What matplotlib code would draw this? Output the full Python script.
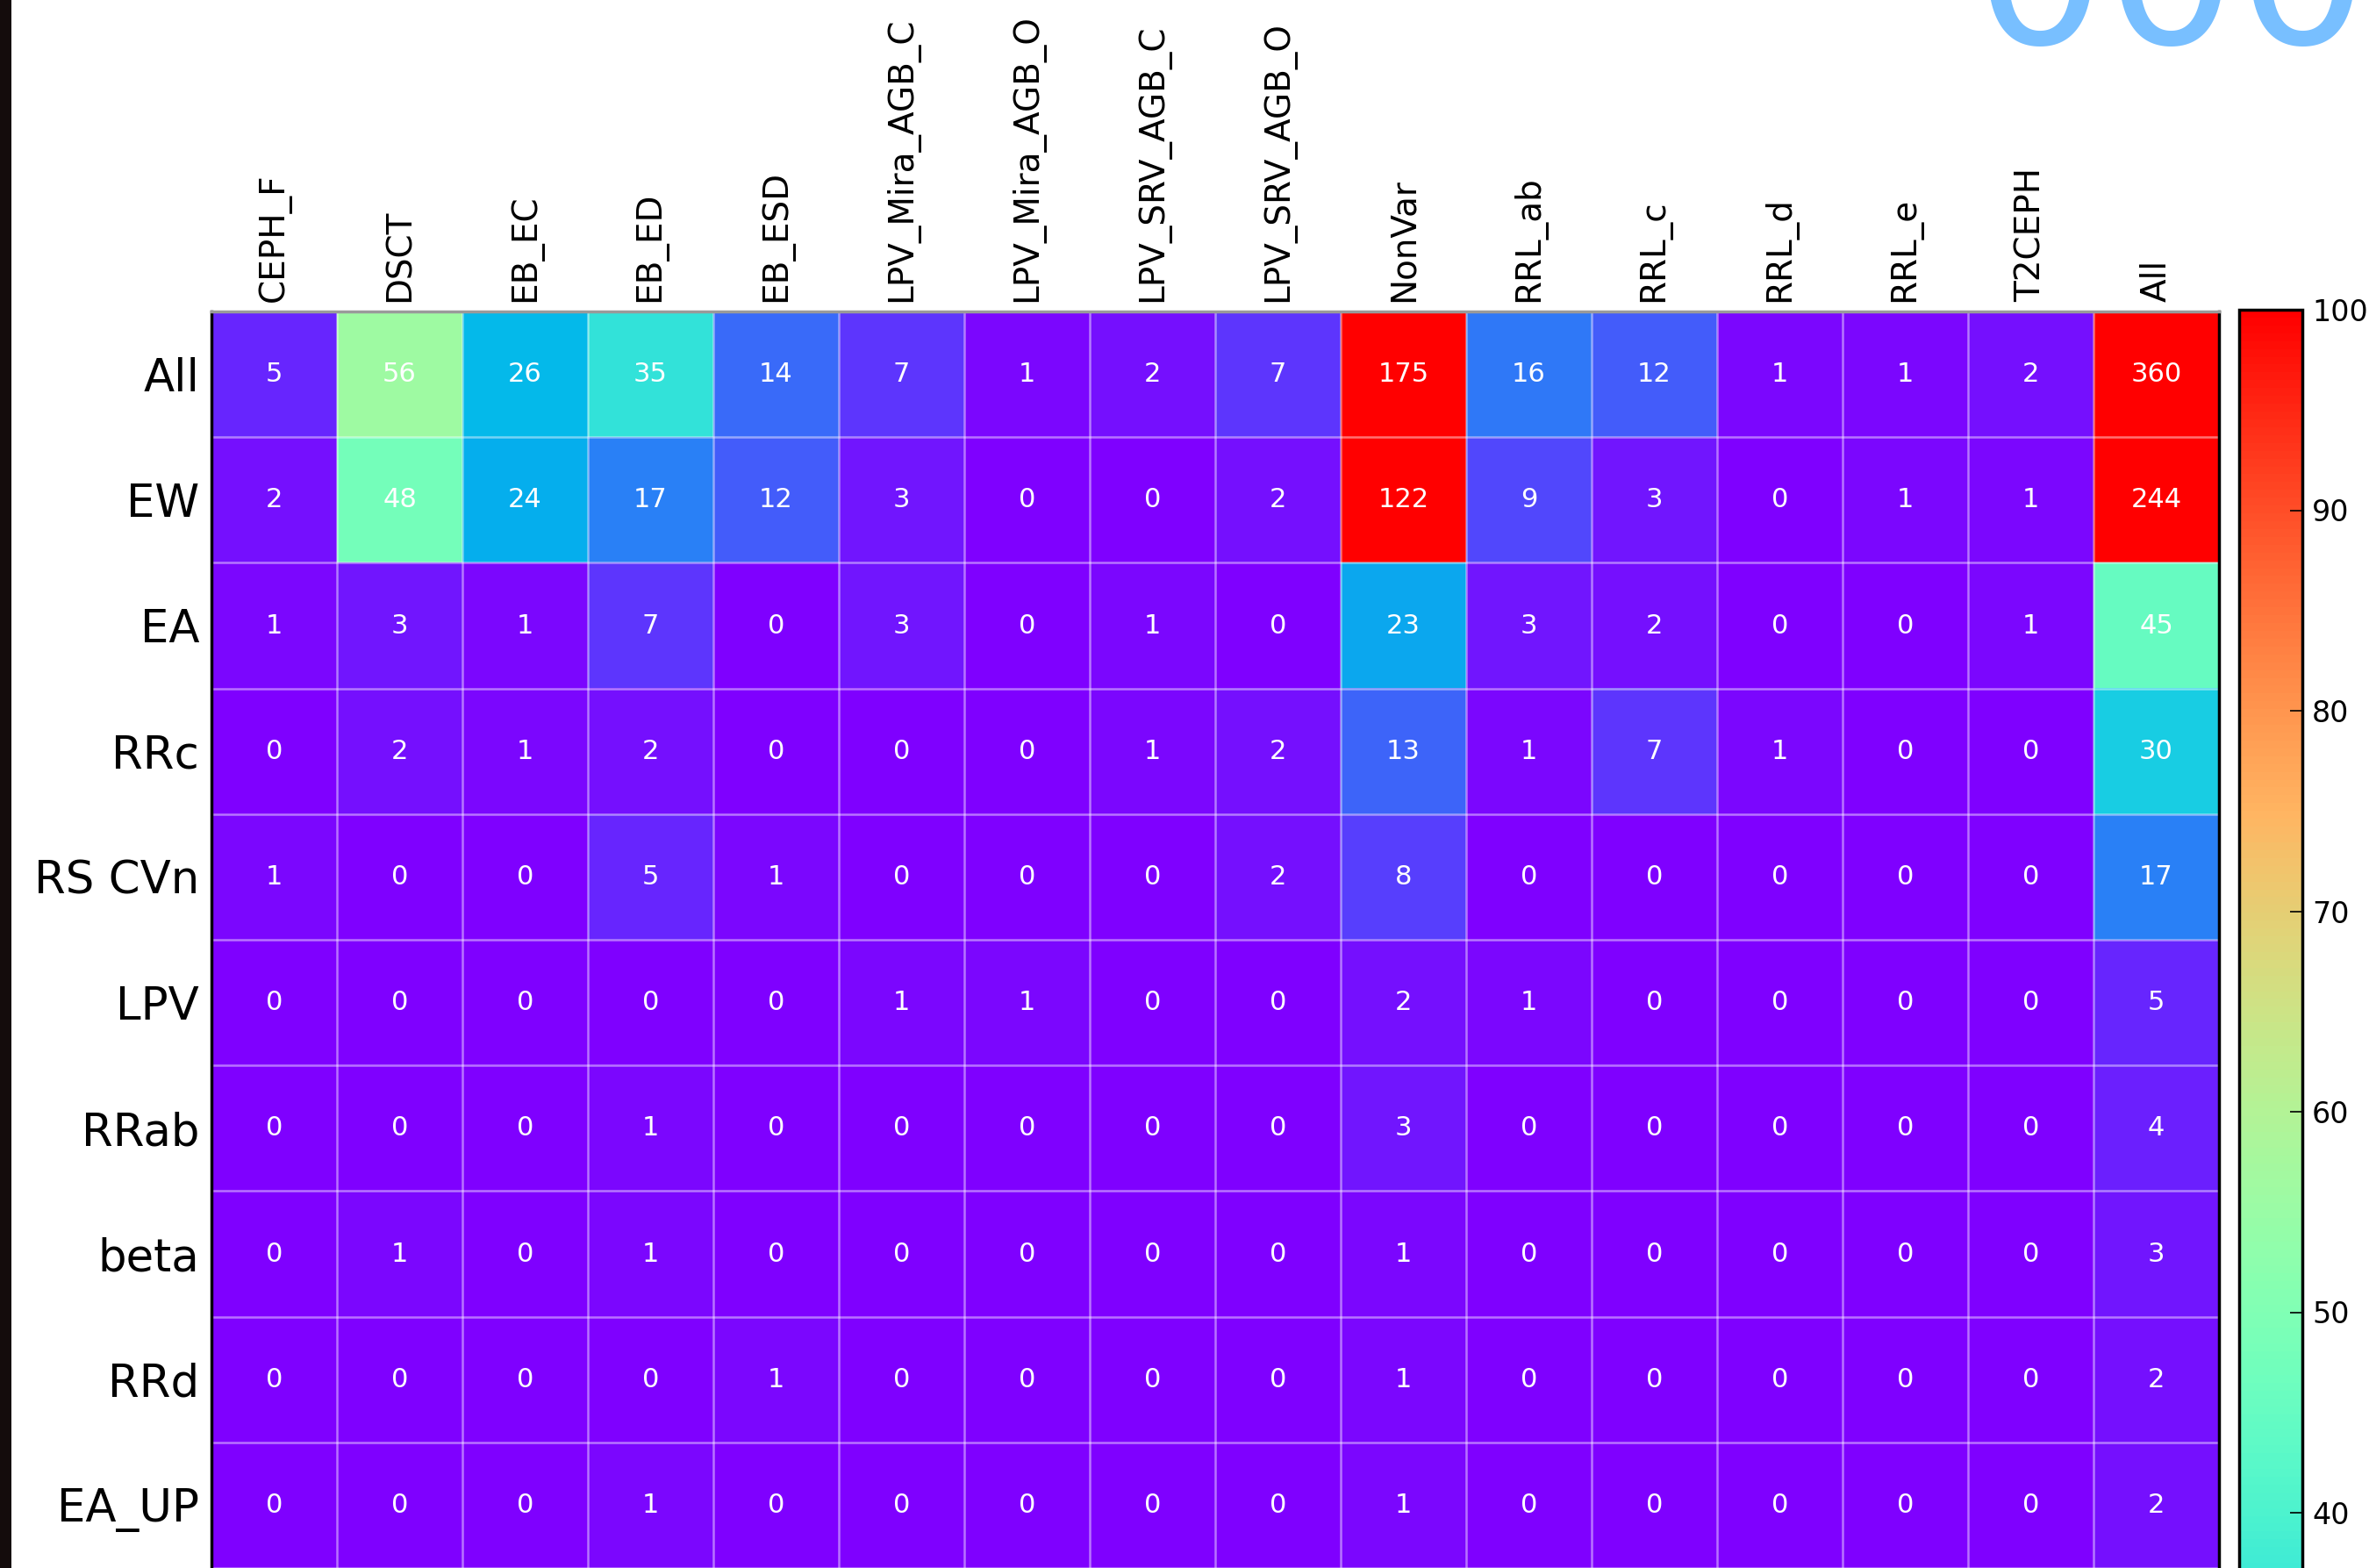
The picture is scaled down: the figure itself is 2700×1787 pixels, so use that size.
import numpy as np
import matplotlib
matplotlib.use("Agg")
import matplotlib.pyplot as plt

columns = ["CEPH_F", "DSCT", "EB_EC", "EB_ED", "EB_ESD",
           "LPV_Mira_AGB_C", "LPV_Mira_AGB_O", "LPV_SRV_AGB_C", "LPV_SRV_AGB_O",
           "NonVar", "RRL_ab", "RRL_c", "RRL_d", "RRL_e", "T2CEPH", "All"]
rows = ["All", "EW", "EA", "RRc", "RS CVn", "LPV", "RRab", "beta", "RRd", "EA_UP"]

row_all   = [5, 56, 26, 35, 14, 7, 1, 2, 7, 175, 16, 12, 1, 1, 2, 360]
row_ew    = [2, 48, 24, 17, 12, 3, 0, 0, 2, 122, 9, 3, 0, 1, 1, 244]
row_ea    = [1, 3, 1, 7, 0, 3, 0, 1, 0, 23, 3, 2, 0, 0, 1, 45]
row_rrc   = [0, 2, 1, 2, 0, 0, 0, 1, 2, 13, 1, 7, 1, 0, 0, 30]
row_rscvn = [1, 0, 0, 5, 1, 0, 0, 0, 2, 8, 0, 0, 0, 0, 0, 17]
row_lpv   = [0, 0, 0, 0, 0, 1, 1, 0, 0, 2, 1, 0, 0, 0, 0, 5]
row_rrab  = [0, 0, 0, 1, 0, 0, 0, 0, 0, 3, 0, 0, 0, 0, 0, 4]
row_beta  = [0, 1, 0, 1, 0, 0, 0, 0, 0, 1, 0, 0, 0, 0, 0, 3]
row_rrd   = [0, 0, 0, 0, 1, 0, 0, 0, 0, 1, 0, 0, 0, 0, 0, 2]
row_eaup  = [0, 0, 0, 1, 0, 0, 0, 0, 0, 1, 0, 0, 0, 0, 0, 2]

# only the ticks visible in the (cropped) reference
cbar_ticks = [40, 50, 60, 70, 80, 90, 100]

data = np.array([row_all, row_ew, row_ea, row_rrc, row_rscvn,
                 row_lpv, row_rrab, row_beta, row_rrd, row_eaup])

W, H = 2700, 1787
fig = plt.figure(figsize=(W / 100, H / 100), dpi=100)
fig.patch.set_facecolor("white")

# heatmap axes (pixel layout converted to figure fractions)
ax = fig.add_axes([241 / W, 0.0, (2529 - 241) / W, 1 - 355 / H])
im = ax.imshow(data, cmap="rainbow", vmin=0, vmax=100, aspect="auto",
               interpolation="nearest")

for i in range(data.shape[0]):
    for j in range(data.shape[1]):
        ax.text(j, i, str(data[i, j]), ha="center", va="center",
                color="white", fontsize=22)

ax.xaxis.tick_top()
ax.set_xticks(range(len(columns)))
ax.set_xticklabels(columns, rotation=90, fontsize=28)
ax.set_yticks(range(len(rows)))
ax.set_yticklabels(rows, fontsize=37)
ax.tick_params(which="major", length=0)
ax.tick_params(axis="x", which="major", pad=8)
ax.tick_params(axis="y", which="major", pad=10)

ax.set_xticks(np.arange(-0.5, len(columns), 1), minor=True)
ax.set_yticks(np.arange(-0.5, len(rows), 1), minor=True)
ax.tick_params(which="minor", length=0)
ax.grid(which="minor", color="white", alpha=0.45, linewidth=1.8)
ax.grid(which="major", visible=False)

for side in ["left", "right"]:
    ax.spines[side].set_color("black")
    ax.spines[side].set_linewidth(2.5)
ax.spines["top"].set_color("#9a9a9a")
ax.spines["top"].set_linewidth(2.5)
ax.spines["bottom"].set_visible(False)

# colorbar axes extends beyond the bottom of the (cropped) figure
cax = fig.add_axes([2552 / W, 1 - 2638 / H, 72 / W, (2638 - 353) / H])
cb = fig.colorbar(im, cax=cax, ticks=cbar_ticks)
cb.outline.set_edgecolor("black")
cb.outline.set_linewidth(2.5)
cax.tick_params(direction="in", length=10, width=1.2, color="black",
                labelsize=24, pad=8)

# dark strip at the left edge of the screenshot
fig.patches.append(plt.Rectangle((0, 0), 13 / W, 1, transform=fig.transFigure,
                                 facecolor="#140c0c", edgecolor="none",
                                 zorder=10))

# cut-off large light-blue text at top right
fig.text(2249 / W, 1 - 50 / H, "000", ha="left", va="baseline",
         fontsize=170, color="#78bfff")

fig.savefig("out.png", dpi=100)
